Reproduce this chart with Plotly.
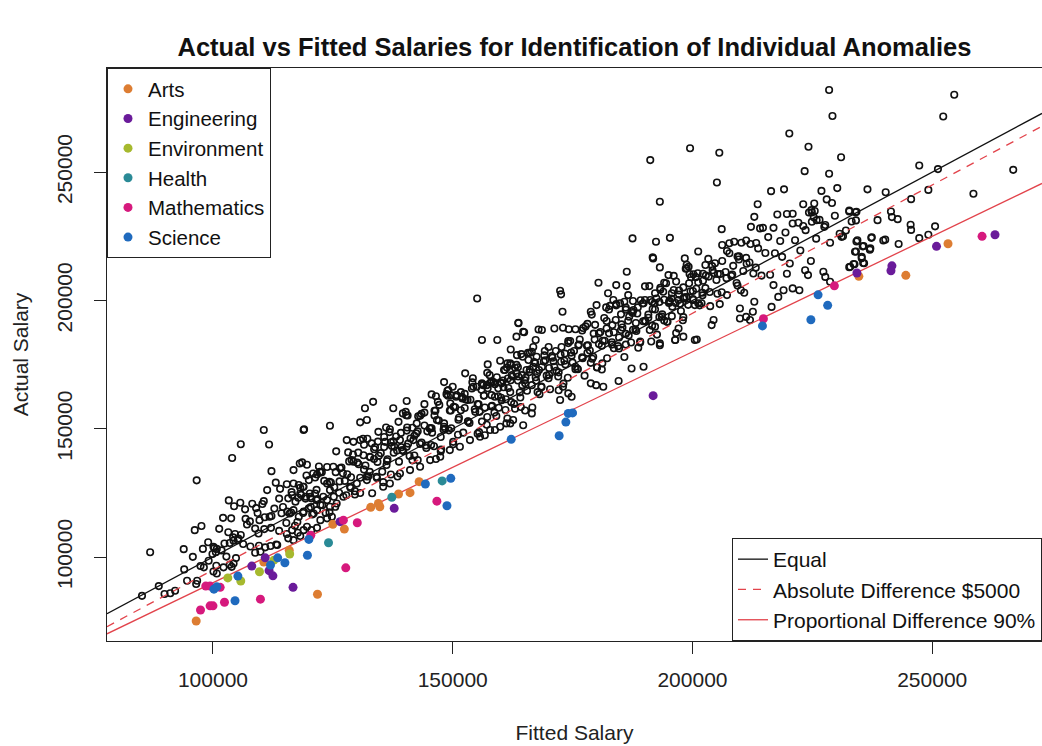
import plotly.graph_objects as go

# ---------------------------------------------------------------
# Data (all salary values in thousands of dollars)
# ---------------------------------------------------------------
SCALE = 1000

categories = ["Arts", "Engineering", "Environment", "Health", "Mathematics", "Science"]
category_colors = ["#DD7D32", "#6A1B9A", "#A6B92E", "#2A8A96", "#D6197D", "#1F6ABE"]

# anomalies: (fitted, actual)
arts_points = [(96.5, 75.1), (121.8, 85.5), (110.6, 98.1), (115.9, 102.7), (125.0, 112.8),
               (127.4, 110.9), (132.9, 119.4), (134.8, 119.6), (134.5, 120.9), (138.7, 124.6),
               (141.1, 125.1), (143.0, 129.4), (234.7, 209.4), (244.5, 209.8), (253.3, 222.1)]
engineering_points = [(116.7, 88.2), (108.1, 96.5), (111.7, 94.7), (112.5, 92.7), (110.9, 99.7),
                      (126.5, 113.8), (137.8, 119.0), (191.8, 162.9), (234.3, 210.7), (241.6, 213.5),
                      (241.4, 211.6), (250.9, 221.1), (263.1, 225.6)]
environment_points = [(103.1, 91.9), (105.8, 90.7), (109.7, 94.3), (112.7, 98.8), (116.0, 101.2)]
health_points = [(124.1, 105.6), (137.3, 123.3), (147.8, 129.7)]
mathematics_points = [(97.4, 79.4), (99.4, 81.0), (100.0, 81.0), (102.4, 82.4), (109.9, 83.6),
                      (98.5, 88.7), (99.4, 88.7), (101.5, 88.2), (120.4, 108.5), (127.7, 95.8),
                      (130.1, 113.4), (127.2, 114.4), (146.7, 121.8), (214.8, 192.9), (229.6, 205.7),
                      (260.4, 225.0)]
science_points = [(104.6, 83.0), (100.2, 87.5), (100.8, 88.4), (105.2, 92.6), (112.0, 96.9),
                  (113.5, 99.7), (115.0, 97.8), (119.7, 100.7), (120.0, 106.9), (144.3, 128.5),
                  (149.6, 130.7), (148.8, 120.0), (162.2, 145.9), (172.2, 147.3), (173.6, 152.6),
                  (174.1, 156.0), (175.0, 156.2), (214.6, 190.1), (226.2, 202.2), (224.7, 192.5),
                  (228.2, 198.1)]
category_points = [arts_points, engineering_points, environment_points,
                   health_points, mathematics_points, science_points]

# regular observations: (fitted, actual)
black_points = [
    # lower left
    (105.8, 144.0), (111.7, 143.9), (104.0, 138.6), (96.6, 129.9), (118.6, 136.9), (116.8, 133.9),
    (112.2, 133.5), (113.1, 129.0), (114.0, 126.6), (115.4, 128.4), (110.6, 149.5), (118.9, 149.5),
    (103.3, 122.1), (104.4, 119.8), (106.7, 118.6), (109.0, 119.1), (110.6, 121.8), (107.7, 113.9),
    (109.7, 114.4), (110.8, 115.5), (112.2, 116.0), (96.2, 110.5), (97.6, 112.1), (86.9, 101.9),
    (93.9, 103.1), (95.8, 100.1), (97.9, 103.2), (99.0, 105.8), (100.1, 104.0), (100.8, 103.2),
    (99.9, 101.2), (100.6, 101.9), (102.4, 105.3), (103.5, 105.5), (104.3, 106.4), (105.2, 106.6),
    (105.8, 108.6), (104.2, 107.7), (109.5, 109.2), (104.8, 99.6), (99.1, 98.6), (97.4, 96.5),
    (98.1, 96.0), (94.0, 95.2), (88.7, 88.7), (85.2, 84.9), (89.9, 85.6), (91.1, 85.9), (92.1, 86.9),
    (94.6, 90.8), (96.7, 90.8), (96.5, 89.5), (100.1, 94.4), (100.8, 93.6), (102.2, 96.0),
    (103.5, 97.0), (103.9, 96.2), (108.8, 101.7), (109.9, 102.1), (110.9, 103.8), (112.0, 104.3),
    (113.4, 104.7), (113.8, 110.2), (115.4, 109.0), (116.5, 110.5), (117.7, 109.5), (118.9, 110.5),
    (115.7, 107.3), (116.8, 106.6), (118.2, 108.2), (119.6, 111.8), (120.5, 110.5), (121.7, 111.4),
    (122.4, 114.4), (123.8, 115.1), (124.8, 115.7), (116.0, 117.0), (116.8, 118.3), (117.9, 115.7),
    (118.9, 117.7), (120.0, 119.0), (121.0, 117.0), (121.7, 118.3), (116.5, 124.2), (117.2, 121.6),
    (118.2, 124.8), (119.4, 123.5), (120.5, 122.9), (121.3, 124.8), (117.9, 128.1), (118.9, 127.4),
    (120.0, 130.0), (121.7, 132.2), (122.7, 133.1), (123.8, 128.7), (124.3, 129.3), (122.4, 120.3),
    (123.8, 122.2), (125.2, 123.5), (125.5, 119.6),
    # 120k - 165k
    (156.1, 184.6), (159.3, 184.6), (162.1, 180.9), (157.3, 175.1), (159.9, 176.5), (161.4, 175.5),
    (152.6, 171.6), (148.2, 168.2), (148.9, 164.8), (150.0, 166.4), (150.8, 163.1), (152.0, 161.8),
    (152.7, 161.4), (154.3, 166.4), (156.1, 167.7), (157.1, 167.0), (146.5, 162.7), (145.6, 163.4),
    (146.9, 160.5), (144.1, 159.6), (140.4, 160.8), (137.6, 158.0), (140.3, 155.3), (142.8, 154.9),
    (133.4, 160.5), (131.7, 158.0), (130.7, 152.5), (132.1, 153.4), (134.5, 148.8), (124.4, 151.2),
    (119.0, 149.8), (136.1, 150.5), (136.9, 149.8), (138.7, 152.7), (140.5, 150.5), (142.5, 152.1),
    (127.9, 145.6), (129.3, 144.9), (130.7, 145.6), (133.1, 144.3), (135.9, 144.9), (137.3, 143.3),
    (139.0, 145.6), (140.4, 143.0), (141.8, 145.6), (118.1, 136.5), (120.9, 132.6), (122.3, 133.2),
    (125.1, 135.2), (126.5, 134.6), (128.9, 137.8), (131.4, 139.7), (132.7, 139.1),
    (118.8, 127.4), (120.2, 124.8), (121.6, 122.2), (123.0, 123.5), (124.4, 119.6), (125.8, 120.9),
    (127.2, 123.5), (128.6, 127.4), (130.0, 128.7), (132.1, 130.0), (134.1, 131.3), (135.5, 127.4),
    (136.9, 128.7), (139.0, 132.6), (141.1, 133.9), (143.2, 135.2), (145.3, 137.8), (147.4, 139.1),
    (149.4, 141.7), (151.5, 143.0), (153.6, 145.6), (155.7, 146.9), (157.8, 149.5), (159.9, 150.8),
    (162.0, 152.1),
    # 155k - 200k upper / lower edges
    (191.7, 216.8), (198.4, 216.4), (193.2, 212.9), (195.0, 209.9), (198.8, 212.5), (199.4, 210.3),
    (186.3, 211.2), (180.4, 206.9), (184.1, 206.0), (186.3, 205.6), (186.6, 202.1), (182.4, 202.8),
    (172.4, 203.8), (172.6, 202.4), (172.9, 195.6), (168.6, 188.5), (164.7, 187.8), (163.7, 191.3),
    (178.8, 195.6), (180.0, 198.2), (182.0, 197.3), (183.5, 200.2), (184.9, 198.9), (185.8, 199.5),
    (187.7, 196.3), (189.8, 198.9), (191.2, 200.2), (192.2, 202.8), (193.9, 203.4), (195.7, 202.8),
    (197.1, 200.2), (198.1, 200.8), (200.2, 200.2), (201.2, 198.9), (184.6, 168.6), (187.3, 173.5),
    (189.8, 174.2), (193.2, 182.6), (196.4, 184.6), (200.9, 184.8), (178.8, 167.7), (179.9, 167.0),
    (181.4, 166.4), (173.0, 166.4), (174.1, 163.8), (174.8, 162.5), (172.4, 161.2), (164.7, 151.4),
    (166.5, 156.0), (162.6, 153.4), (161.2, 152.1), (158.8, 149.5), (156.7, 147.5),
    (155.1, 200.8), (163.7, 191.1), (164.9, 187.6), (163.3, 185.9), (167.3, 184.6), (167.9, 188.7),
    (149.1, 165.1), (149.6, 163.1), (150.7, 162.5), (151.9, 162.5), (154.0, 165.7), (155.0, 166.4),
    (156.4, 167.0), (157.8, 167.9), (158.8, 167.4), (160.2, 167.7), (161.5, 169.6), (162.0, 175.5),
    (163.4, 178.7), (164.6, 178.1), (165.8, 176.8), (166.5, 180.0), (167.5, 178.1), (160.9, 172.9),
    (162.3, 170.9), (163.3, 171.6), (164.4, 170.9), (165.4, 172.9), (166.8, 174.2),
    # 190k - 240k
    (223.4, 250.4), (228.5, 249.4), (205.1, 246.0), (216.4, 242.6), (219.1, 243.3), (213.6, 237.5),
    (223.1, 237.5), (225.4, 237.8), (236.5, 243.3), (193.2, 238.5), (195.3, 224.4), (206.1, 227.8),
    (212.9, 232.6), (219.7, 233.7), (220.9, 230.0), (224.8, 235.2), (225.5, 234.9), (224.9, 234.3),
    (225.9, 231.3), (227.7, 229.4), (224.9, 230.7), (232.7, 235.0), (234.2, 234.6), (238.6, 231.3),
    (231.1, 224.8), (234.4, 223.5), (235.7, 221.2), (237.3, 224.4), (237.1, 220.3), (233.9, 219.0),
    (235.3, 217.0), (235.8, 214.5), (232.9, 213.1), (233.8, 214.1), (227.3, 211.2), (227.7, 209.2),
    (228.7, 207.3), (223.5, 211.8), (224.1, 209.9), (222.3, 204.0), (220.9, 204.7), (216.5, 197.5),
    (217.9, 201.4), (219.0, 204.0), (216.9, 206.0), (209.9, 196.9), (211.2, 193.6), (209.9, 193.0),
    (212.0, 192.4), (212.6, 195.6), (212.9, 199.5), (200.5, 184.6), (196.4, 184.6), (198.1, 185.9),
    (193.2, 183.3), (204.0, 190.4), (204.4, 192.4),
    (228.5, 282.0), (229.2, 271.9), (220.2, 265.1), (199.5, 259.3), (205.6, 257.6), (224.2, 259.9),
    (191.2, 254.7), (187.5, 224.2), (192.4, 222.9), (191.8, 216.4),
    # upper right
    (254.6, 280.2), (252.3, 271.7), (247.3, 252.6), (251.2, 251.2), (266.9, 250.9), (231.0, 255.8),
    (240.3, 242.2), (249.2, 243.1), (245.6, 239.5), (258.6, 241.6), (232.7, 234.7), (234.0, 234.4),
    (233.2, 230.8), (234.1, 231.2), (232.0, 227.3), (231.4, 225.0), (241.4, 234.7), (241.6, 232.5),
    (242.8, 231.7), (245.5, 229.5), (245.6, 227.5), (237.4, 224.6), (239.8, 223.4), (240.2, 223.7),
    (243.0, 222.0), (247.3, 224.3), (249.2, 225.6), (250.6, 228.9), (234.2, 223.0), (235.5, 221.1),
    (237.0, 219.8), (234.1, 219.1), (235.3, 216.5), (235.6, 214.6), (233.6, 214.2), (232.7, 213.0),
    # dense band 100k - 140k
    (100.3, 103.5), (100.7, 96.6), (101.3, 111.0), (101.8, 102.6), (102.1, 115.3), (102.8, 100.2),
    (103.2, 109.7), (103.8, 115.1), (104.3, 97.5), (104.6, 109.0), (105.3, 107.2), (105.7, 121.2),
    (106.3, 105.1), (106.8, 114.9), (107.1, 112.7), (107.8, 104.1), (108.2, 120.8), (108.8, 111.1),
    (109.3, 117.2), (109.6, 104.4), (110.3, 120.7), (110.7, 110.9), (111.3, 126.1), (111.8, 115.7),
    (112.1, 111.4), (112.8, 118.9), (113.2, 104.9), (113.8, 122.8), (114.3, 117.1), (114.6, 119.5),
    (115.3, 113.3), (115.7, 122.9), (116.3, 117.4), (116.8, 128.7), (117.1, 112.2), (117.8, 123.1),
    (118.2, 127.0), (118.8, 117.2), (119.3, 122.8), (119.6, 136.0), (120.3, 123.5), (120.7, 116.6),
    (121.3, 131.0), (121.8, 122.6), (122.1, 135.3), (122.8, 120.2), (123.2, 129.7), (123.8, 135.1),
    (124.3, 117.5), (124.6, 129.0), (125.3, 127.2), (125.7, 141.2), (126.3, 125.1), (126.8, 134.9),
    (127.1, 132.7), (127.8, 124.1), (128.2, 140.8), (128.8, 131.1), (129.3, 137.2), (129.6, 124.4),
    (130.3, 140.7), (130.7, 130.9), (131.3, 146.1), (131.8, 135.7), (132.1, 131.4), (132.8, 138.9),
    (133.2, 124.9), (133.8, 142.8), (134.3, 137.1), (134.6, 139.5), (135.3, 133.3), (135.7, 142.9),
    (136.3, 137.4), (136.8, 148.7), (137.1, 132.2), (137.8, 143.1), (138.2, 147.0), (138.8, 137.2),
    (139.3, 142.8), (139.6, 156.0),
    (115.5, 117.7), (116.4, 125.3), (117.6, 113.7), (118.4, 124.2), (119.5, 131.8), (120.4, 119.5),
    (121.6, 126.2), (122.4, 133.0), (123.5, 117.2), (124.4, 126.1), (125.6, 133.1), (126.4, 129.5),
    (127.5, 129.7), (128.4, 137.3), (129.6, 125.7), (130.4, 136.2), (131.5, 143.8), (132.4, 131.5),
    (133.6, 138.2), (134.4, 145.0), (135.5, 129.2), (136.4, 138.1), (137.6, 145.1), (138.4, 141.5),
    (139.5, 141.7), (140.4, 149.3), (141.6, 137.7), (142.4, 148.2), (143.5, 155.8), (144.4, 143.5),
    (145.6, 150.2), (146.4, 157.0), (147.5, 141.2), (148.4, 150.1), (149.6, 157.1),
    # dense band 140k - 160k
    (140.2, 156.6), (140.7, 144.2), (141.0, 139.4), (141.6, 150.4), (142.0, 147.3), (142.7, 137.8),
    (143.2, 155.1), (143.5, 144.6), (144.1, 151.3), (144.5, 142.5), (145.2, 150.1), (145.7, 148.5),
    (146.2, 155.2), (146.5, 138.2), (147.1, 153.2), (147.5, 146.8), (148.2, 152.1), (148.7, 163.5),
    (149.2, 149.4), (149.5, 159.9), (150.1, 144.9), (150.5, 158.4), (151.2, 153.5), (151.7, 164.3),
    (152.2, 148.5), (152.5, 158.1), (153.1, 161.2), (153.5, 152.3), (154.2, 169.7), (154.7, 156.6),
    (155.2, 159.6), (155.5, 148.7), (156.1, 167.4), (156.5, 163.0), (157.2, 154.6), (157.7, 170.9),
    (158.2, 159.0), (158.5, 168.2), (159.1, 155.0), (159.5, 162.7),
    # dense band 160k - 180k
    (160.0, 168.1), (160.6, 166.2), (161.0, 157.3), (161.3, 173.9), (162.0, 164.3), (162.5, 170.4),
    (163.0, 157.8), (163.6, 174.0), (164.0, 164.2), (164.3, 179.1), (165.0, 168.9), (165.5, 164.8),
    (166.0, 172.1), (166.6, 158.3), (167.0, 176.0), (167.3, 170.1), (168.0, 172.9), (168.5, 166.5),
    (169.0, 176.2), (169.6, 170.7), (170.0, 181.9), (170.3, 165.4), (171.0, 176.3), (171.5, 180.3),
    (172.0, 170.4), (172.6, 176.1), (173.0, 189.4), (173.3, 176.5), (174.0, 169.9), (174.5, 184.2),
    (175.0, 175.8), (175.6, 188.8), (176.0, 173.4), (176.3, 182.8), (177.0, 188.3), (177.5, 170.7),
    (178.0, 182.4), (178.6, 180.5), (179.0, 194.5), (179.3, 178.1),
    # dense band 180k - 200k
    (180.1, 173.9), (180.8, 187.7), (181.1, 182.4), (181.6, 193.2), (182.2, 177.5), (182.6, 187.2),
    (183.3, 190.4), (183.6, 181.4), (184.1, 198.6), (184.7, 185.6), (185.1, 188.5), (185.8, 178.0),
    (186.1, 196.4), (186.6, 192.1), (187.2, 183.6), (187.6, 199.8), (188.3, 188.1), (188.6, 197.3),
    (189.1, 184.0), (189.7, 191.9), (190.1, 205.5), (190.8, 193.3), (191.1, 188.5), (191.6, 199.4),
    (192.2, 196.5), (192.6, 186.7), (193.3, 204.2), (193.6, 193.7), (194.1, 200.3), (194.7, 191.7),
    (195.1, 199.0), (195.8, 197.6), (196.1, 204.1), (196.6, 187.3), (197.2, 202.3), (197.6, 195.9),
    (198.3, 201.2), (198.6, 212.4), (199.1, 198.3), (199.7, 209.1),
    # dense band 200k - 232k
    (200.2, 210.2), (200.8, 204.6), (201.2, 207.1), (201.9, 198.9), (202.2, 210.4), (202.7, 204.8),
    (203.3, 216.2), (203.7, 197.8), (204.4, 210.7), (204.7, 214.5), (205.2, 202.6), (205.8, 210.3),
    (206.2, 221.6), (206.9, 211.1), (207.2, 202.1), (207.7, 218.4), (208.3, 210.1), (208.7, 222.9),
    (209.4, 205.8), (209.7, 217.2), (210.2, 222.5), (210.8, 203.0), (211.2, 216.6), (211.9, 214.8),
    (212.2, 228.7), (212.7, 210.5), (213.3, 222.4), (213.7, 220.3), (214.4, 209.7), (214.7, 228.3),
    (215.2, 218.5), (215.8, 224.7), (216.2, 210.0), (216.9, 228.3), (217.2, 218.4), (217.7, 233.5),
    (218.3, 223.2), (218.7, 217.0), (219.4, 226.5), (219.7, 210.4),
    (220.3, 214.4), (220.9, 233.8), (221.4, 223.5), (222.1, 230.3), (222.5, 219.5), (223.1, 229.0),
    (223.6, 227.4), (224.3, 234.3), (224.7, 215.4), (225.3, 232.4), (225.8, 224.1), (226.5, 231.4),
    (226.9, 242.7), (227.5, 228.7), (228.0, 239.4), (228.7, 222.5), (229.1, 238.0), (229.7, 233.0),
    (230.2, 243.8), (230.7, 226.0),
    # extra density 145k - 215k
    (145.3, 150.3), (146.1, 143.2), (147.2, 159.3), (148.1, 149.6), (149.4, 157.1), (150.1, 144.0),
    (151.3, 154.3), (152.1, 162.0), (153.2, 152.8), (154.1, 168.1), (155.4, 159.5), (156.1, 152.8),
    (157.3, 165.8), (158.1, 158.7), (159.2, 170.1), (160.1, 162.1), (161.4, 154.0), (162.1, 168.9),
    (163.3, 174.9), (164.1, 162.2), (165.2, 169.9), (166.1, 179.6), (167.4, 168.7), (168.1, 163.5),
    (169.3, 176.7), (170.1, 173.7), (171.2, 189.1), (172.1, 172.0), (173.4, 179.3), (174.1, 183.4),
    (175.3, 180.3), (176.1, 173.2), (177.2, 189.3), (178.1, 179.6), (179.4, 187.1), (180.1, 174.0),
    (181.3, 184.3), (182.1, 192.0), (183.2, 182.8), (184.1, 198.1), (185.4, 189.5), (186.1, 182.8),
    (187.3, 195.8), (188.1, 188.7), (189.2, 200.1), (190.1, 192.1), (191.4, 184.0), (192.1, 198.9),
    (193.3, 204.9), (194.1, 192.2), (195.2, 199.9), (196.1, 209.6), (197.4, 198.7), (198.1, 193.5),
    (199.3, 206.7), (200.1, 203.7), (201.2, 219.1), (202.1, 202.0), (203.4, 209.3), (204.1, 213.4),
    (205.3, 210.3), (206.1, 203.2), (207.2, 219.3), (208.1, 209.6), (209.4, 217.1), (210.1, 204.0),
    (211.3, 214.3), (212.1, 222.0), (213.2, 212.8), (214.1, 228.1),
    (155.6, 156.6), (156.5, 162.9), (157.1, 151.6), (158.1, 168.2), (158.8, 162.5), (159.6, 158.2),
    (160.5, 168.8), (161.1, 161.5), (162.1, 174.9), (162.8, 159.7), (163.6, 168.8), (164.5, 167.0),
    (165.1, 157.1), (166.1, 173.1), (166.8, 181.9), (167.6, 171.6), (168.5, 166.2), (169.1, 178.6),
    (170.1, 171.0), (170.8, 177.7), (171.6, 172.6), (172.5, 178.9), (173.1, 167.6), (174.1, 184.2),
    (174.8, 178.5), (175.6, 174.2), (176.5, 184.8), (177.1, 177.5), (178.1, 190.9), (178.8, 175.7),
    (179.6, 184.8), (180.5, 183.0), (181.1, 173.1), (182.1, 189.1), (182.8, 197.9), (183.6, 187.6),
    (184.5, 182.2), (185.1, 194.6), (186.1, 187.0), (186.8, 193.7), (187.6, 188.6), (188.5, 194.9),
    (189.1, 183.6), (190.1, 200.2), (190.8, 194.5), (191.6, 190.2), (192.5, 200.8), (193.1, 193.5),
    (194.1, 206.9), (194.8, 191.7), (195.6, 200.8), (196.5, 199.0), (197.1, 189.1), (198.1, 205.1),
    (198.8, 213.9), (199.6, 203.6), (200.5, 198.2), (201.1, 210.6), (202.1, 203.0), (202.8, 209.7),
    # extra density 128k - 212k
    (128.0, 132.3), (128.7, 126.9), (129.2, 140.0), (130.1, 136.8), (130.7, 125.0), (131.5, 134.1),
    (132.2, 146.1), (132.7, 133.2), (133.6, 142.0), (134.2, 130.8), (135.0, 140.5), (135.7, 146.8),
    (136.2, 135.9), (137.1, 144.7), (137.7, 140.7), (138.5, 131.4), (139.2, 148.4), (139.7, 141.3),
    (140.6, 155.2), (141.2, 146.2), (142.0, 139.6), (142.7, 149.0), (143.2, 144.1), (144.1, 156.3),
    (144.7, 149.0), (145.5, 143.7), (146.2, 157.0), (146.7, 153.4), (147.6, 141.9), (148.2, 150.8),
    (149.0, 162.9), (149.7, 150.2), (150.2, 158.6), (151.1, 147.7), (151.7, 157.2), (152.5, 163.6),
    (153.2, 152.9), (153.7, 161.3), (154.6, 157.6), (155.2, 148.1), (156.0, 165.2), (156.7, 158.3),
    (157.2, 171.8), (158.1, 163.1), (158.7, 156.3), (159.5, 165.8), (160.2, 161.1), (160.7, 172.9),
    (161.6, 165.9), (162.2, 160.4), (163.0, 173.8), (163.7, 170.4), (164.2, 158.5), (165.1, 167.7),
    (165.7, 179.6), (166.5, 167.0), (167.2, 175.6), (167.7, 164.3), (168.6, 174.1), (169.2, 180.3),
    (170.0, 169.7), (170.7, 178.3), (171.2, 174.2), (172.1, 165.0), (172.7, 181.9), (173.5, 175.1),
    (174.2, 188.8), (174.7, 179.7), (175.6, 173.2), (176.2, 182.5), (177.0, 177.9), (177.7, 189.9),
    (178.2, 182.5), (179.1, 177.3), (179.7, 190.5), (180.5, 187.2), (181.2, 175.5), (181.7, 184.3),
    (182.6, 196.5), (183.2, 183.7), (184.0, 192.4), (184.7, 181.3), (185.2, 190.7), (186.1, 197.2),
    (186.7, 186.4), (187.5, 195.1), (188.2, 191.2), (188.7, 181.6), (189.6, 198.8), (190.2, 191.8),
    (191.0, 205.6), (191.7, 196.7), (192.2, 189.8), (193.1, 199.4), (193.7, 194.6), (194.5, 206.7),
    (195.2, 199.5), (195.7, 193.9), (196.6, 207.4), (197.2, 203.9), (198.0, 192.3), (198.7, 201.3),
    (199.2, 213.1), (200.1, 200.6), (200.7, 209.1), (201.5, 198.1), (202.2, 207.7), (202.7, 213.8),
    (203.6, 203.3), (204.2, 211.8), (205.0, 208.0), (205.7, 198.6), (206.2, 215.4), (207.1, 208.7),
    (207.7, 222.3), (208.5, 213.5), (209.2, 206.8), (209.7, 216.0), (210.6, 211.5), (211.2, 223.4),
]

black_fitted = [p[0] * SCALE for p in black_points]
black_actual = [p[1] * SCALE for p in black_points]

# reference lines
abs_difference = 5  # thousands
prop_difference = 0.9
x_range = [77.9, 272.9]
y_range = [67.3, 290.6]
x_ticks = [100, 150, 200, 250]
y_ticks = [100, 150, 200, 250]

FONT = "Liberation Sans, Arial, Helvetica, sans-serif"

fig = go.Figure()

fig.add_trace(go.Scatter(
    x=black_fitted, y=black_actual, mode="markers", showlegend=False,
    marker=dict(symbol="circle-open", size=6.5, color="#111111", line=dict(width=1.6, color="#111111")),
    hoverinfo="skip",
))

line_x = [v * SCALE for v in x_range]
fig.add_trace(go.Scatter(
    x=line_x, y=[v for v in line_x], mode="lines", name="Equal",
    line=dict(color="#111111", width=1.3), legend="legend2",
))
fig.add_trace(go.Scatter(
    x=line_x, y=[v - abs_difference * SCALE for v in line_x], mode="lines",
    name="Absolute Difference $5000",
    line=dict(color="#E2434B", width=1.3, dash="8px,7px"), legend="legend2",
))
fig.add_trace(go.Scatter(
    x=line_x, y=[v * prop_difference for v in line_x], mode="lines",
    name="Proportional Difference 90%",
    line=dict(color="#E2434B", width=1.3), legend="legend2",
))

for name, color, pts in zip(categories, category_colors, category_points):
    fig.add_trace(go.Scatter(
        x=[p[0] * SCALE for p in pts], y=[p[1] * SCALE for p in pts],
        mode="markers", name=name, legend="legend",
        marker=dict(symbol="circle", size=9, color=color),
    ))

axis_common = dict(
    showline=True, mirror=True, linecolor="#222222", linewidth=1,
    ticks="outside", ticklen=12, tickcolor="#222222", tickwidth=1,
    showgrid=False, zeroline=False,
    tickfont=dict(family=FONT, size=21, color="#222222"),
)

fig.update_layout(
    width=1042, height=746,
    margin=dict(l=107, r=0, t=68, b=105),
    paper_bgcolor="white", plot_bgcolor="white",
    font=dict(family=FONT, color="#222222"),
    title=dict(
        text="Actual vs Fitted Salaries for Identification of Individual Anomalies",
        x=0.5, xref="paper", xanchor="center",
        y=1 - 47 / 746, yref="container", yanchor="middle",
        font=dict(family=FONT, size=25.5, color="#111111", weight="bold"),
    ),
    xaxis=dict(
        range=[v * SCALE for v in x_range],
        tickvals=[v * SCALE for v in x_ticks],
        ticktext=[str(v * SCALE) for v in x_ticks],
        ticklabelstandoff=8,
        title=dict(text="Fitted Salary", font=dict(family=FONT, size=21, color="#222222"), standoff=35),
        **axis_common,
    ),
    yaxis=dict(
        range=[v * SCALE for v in y_range],
        tickvals=[v * SCALE for v in y_ticks],
        ticktext=[str(v * SCALE) for v in y_ticks],
        tickangle=-90,
        ticklabelstandoff=14,
        title=dict(text="Actual Salary", font=dict(family=FONT, size=21, color="#222222"), standoff=18),
        **axis_common,
    ),
    legend=dict(
        x=0, y=1, xanchor="left", yanchor="top", xref="paper", yref="paper",
        bgcolor="white", bordercolor="#222222", borderwidth=1,
        font=dict(family=FONT, size=20.5, color="#111111"),
        itemsizing="trace", tracegroupgap=0,
    ),
    legend2=dict(
        x=1, y=0, xanchor="right", yanchor="bottom", xref="paper", yref="paper",
        bgcolor="white", bordercolor="#222222", borderwidth=1,
        font=dict(family=FONT, size=21, color="#111111"),
        tracegroupgap=0,
    ),
)

fig.write_html(
    "out.html",
    config={"displayModeBar": False},
    post_script="document.body.style.margin='0';document.body.style.overflow='hidden';",
)
